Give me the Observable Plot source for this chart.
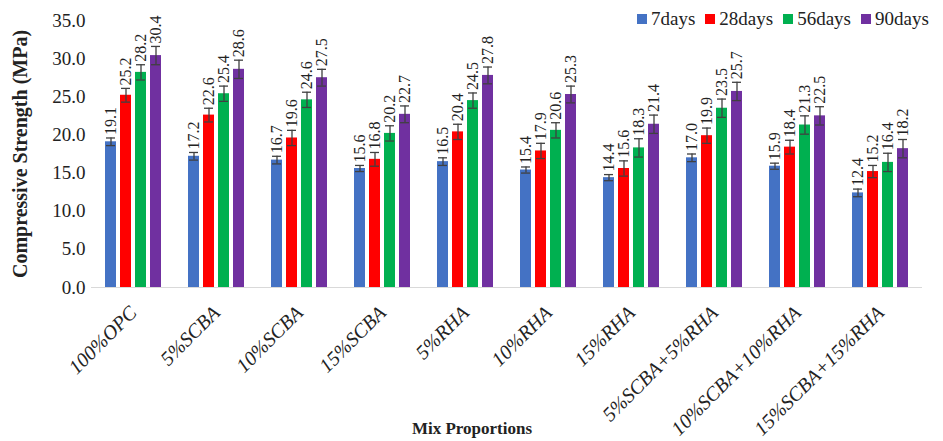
<!DOCTYPE html>
<html>
<head>
<meta charset="utf-8">
<script src="https://cdn.jsdelivr.net/npm/d3@7"></script>
<script src="https://cdn.jsdelivr.net/npm/@observablehq/plot@0.6"></script>
<style>
  body { margin: 0; background: #fff; }
  #wrap { position: relative; width: 943px; height: 441px; font-family: "Liberation Serif", "Times New Roman", serif; color: #222; }
  #legend { position: absolute; top: 9px; left: 637px; display: flex; align-items: center; font-size: 19px; line-height: 19px; white-space: nowrap; }
  #legend .item { display: flex; align-items: center; margin-right: 10px; }
  #legend .sw { width: 10px; height: 10px; margin-right: 4px; display: inline-block; }
  #xtitle { position: absolute; left: 372px; width: 200px; top: 420px; text-align: center; font-size: 17px; line-height: 17px; font-weight: bold; }
  g[aria-label="fx-axis tick label"] text { font-style: italic; }
  g[aria-label="y-axis label"] text { font-weight: bold; font-size: 20px; }
</style>
</head>
<body>
<div id="wrap"></div>
<script>
const mixes = ["100%OPC", "5%SCBA", "10%SCBA", "15%SCBA", "5%RHA", "10%RHA", "15%RHA", "5%SCBA+5%RHA", "10%SCBA+10%RHA", "15%SCBA+15%RHA"];
const series = ["7days", "28days", "56days", "90days"];
const colors = ["#4472C4", "#FF0000", "#00B050", "#7030A0"];

const days7  = [19.1, 17.2, 16.7, 15.6, 16.5, 15.4, 14.4, 17.0, 15.9, 12.4];
const days28 = [25.2, 22.6, 19.6, 16.8, 20.4, 17.9, 15.6, 19.9, 18.4, 15.2];
const days56 = [28.2, 25.4, 24.6, 20.2, 24.5, 20.6, 18.3, 23.5, 21.3, 16.4];
const days90 = [30.4, 28.6, 27.5, 22.7, 27.8, 25.3, 21.4, 25.7, 22.5, 18.2];

const err7  = [0.5, 0.5, 0.5, 0.4, 0.5, 0.4, 0.4, 0.5, 0.4, 0.5];
const err28 = [0.9, 0.9, 1.0, 0.9, 1.0, 1.0, 1.0, 1.0, 0.9, 0.8];
const err56 = [1.0, 1.0, 1.0, 1.0, 1.0, 1.0, 1.2, 1.2, 1.2, 1.2];
const err90 = [1.2, 1.2, 1.1, 1.1, 1.1, 1.1, 1.2, 1.2, 1.2, 1.2];

const yTicks = [0, 5, 10, 15, 20, 25, 30, 35];

const values = [days7, days28, days56, days90];
const errs = [err7, err28, err56, err90];
const data = [];
mixes.forEach((m, i) => {
  series.forEach((s, j) => {
    data.push({mix: m, series: s, value: values[j][i], err: errs[j][i]});
  });
});

const chart = Plot.plot({
  width: 943,
  height: 441,
  marginTop: 20,
  marginBottom: 154,
  marginLeft: 88,
  marginRight: 18,
  style: {fontFamily: "'Liberation Serif', 'Times New Roman', serif", fontSize: "19px", color: "#222", background: "white", overflow: "visible"},
  fx: {domain: mixes, paddingInner: 0.3, paddingOuter: 0.15},
  x: {domain: series, paddingInner: 0.27, paddingOuter: 0.05, axis: null},
  y: {domain: [0, 35]},
  color: {domain: series, range: colors},
  marks: [
    Plot.axisY({ticks: yTicks, tickFormat: d3.format(".1f"), tickSize: 0, tickPadding: 19, fontSize: 19,
      label: "Compressive Strength (MPa)", labelAnchor: "center", labelOffset: 92, labelArrow: "none"}),
    Plot.axisFx({anchor: "bottom", tickRotate: -45, tickSize: 0, tickPadding: 22, fontSize: 20, label: null}),
    Plot.ruleY([0], {stroke: "#d9d9d9", strokeWidth: 1.2, insetLeft: -13, insetRight: -13}),
    Plot.barY(data, {fx: "mix", x: "series", y: "value", fill: "series"}),
    Plot.ruleX(data, {fx: "mix", x: "series", y1: d => d.value - d.err, y2: d => d.value + d.err, stroke: "#404040", strokeWidth: 1.3}),
    Plot.tickY(data, {fx: "mix", x: "series", y: d => d.value + d.err, stroke: "#404040", strokeWidth: 1.3, insetLeft: 1, insetRight: 1}),
    Plot.tickY(data, {fx: "mix", x: "series", y: d => d.value - d.err, stroke: "#404040", strokeWidth: 1.3, insetLeft: 1, insetRight: 1}),
    Plot.text(data, {fx: "mix", x: "series", y: d => d.value + d.err, text: d => d.value.toFixed(1), rotate: -90, textAnchor: "start", dy: -3, fontSize: 16, fill: "#222"})
  ]
});

const wrap = document.getElementById("wrap");
wrap.appendChild(chart);

const legend = document.createElement("div");
legend.id = "legend";
series.forEach((s, i) => {
  const item = document.createElement("span");
  item.className = "item";
  const sw = document.createElement("span");
  sw.className = "sw";
  sw.style.background = colors[i];
  item.appendChild(sw);
  item.appendChild(document.createTextNode(s));
  legend.appendChild(item);
});
wrap.appendChild(legend);

const xt = document.createElement("div");
xt.id = "xtitle";
xt.textContent = "Mix Proportions";
wrap.appendChild(xt);
</script>
</body>
</html>
